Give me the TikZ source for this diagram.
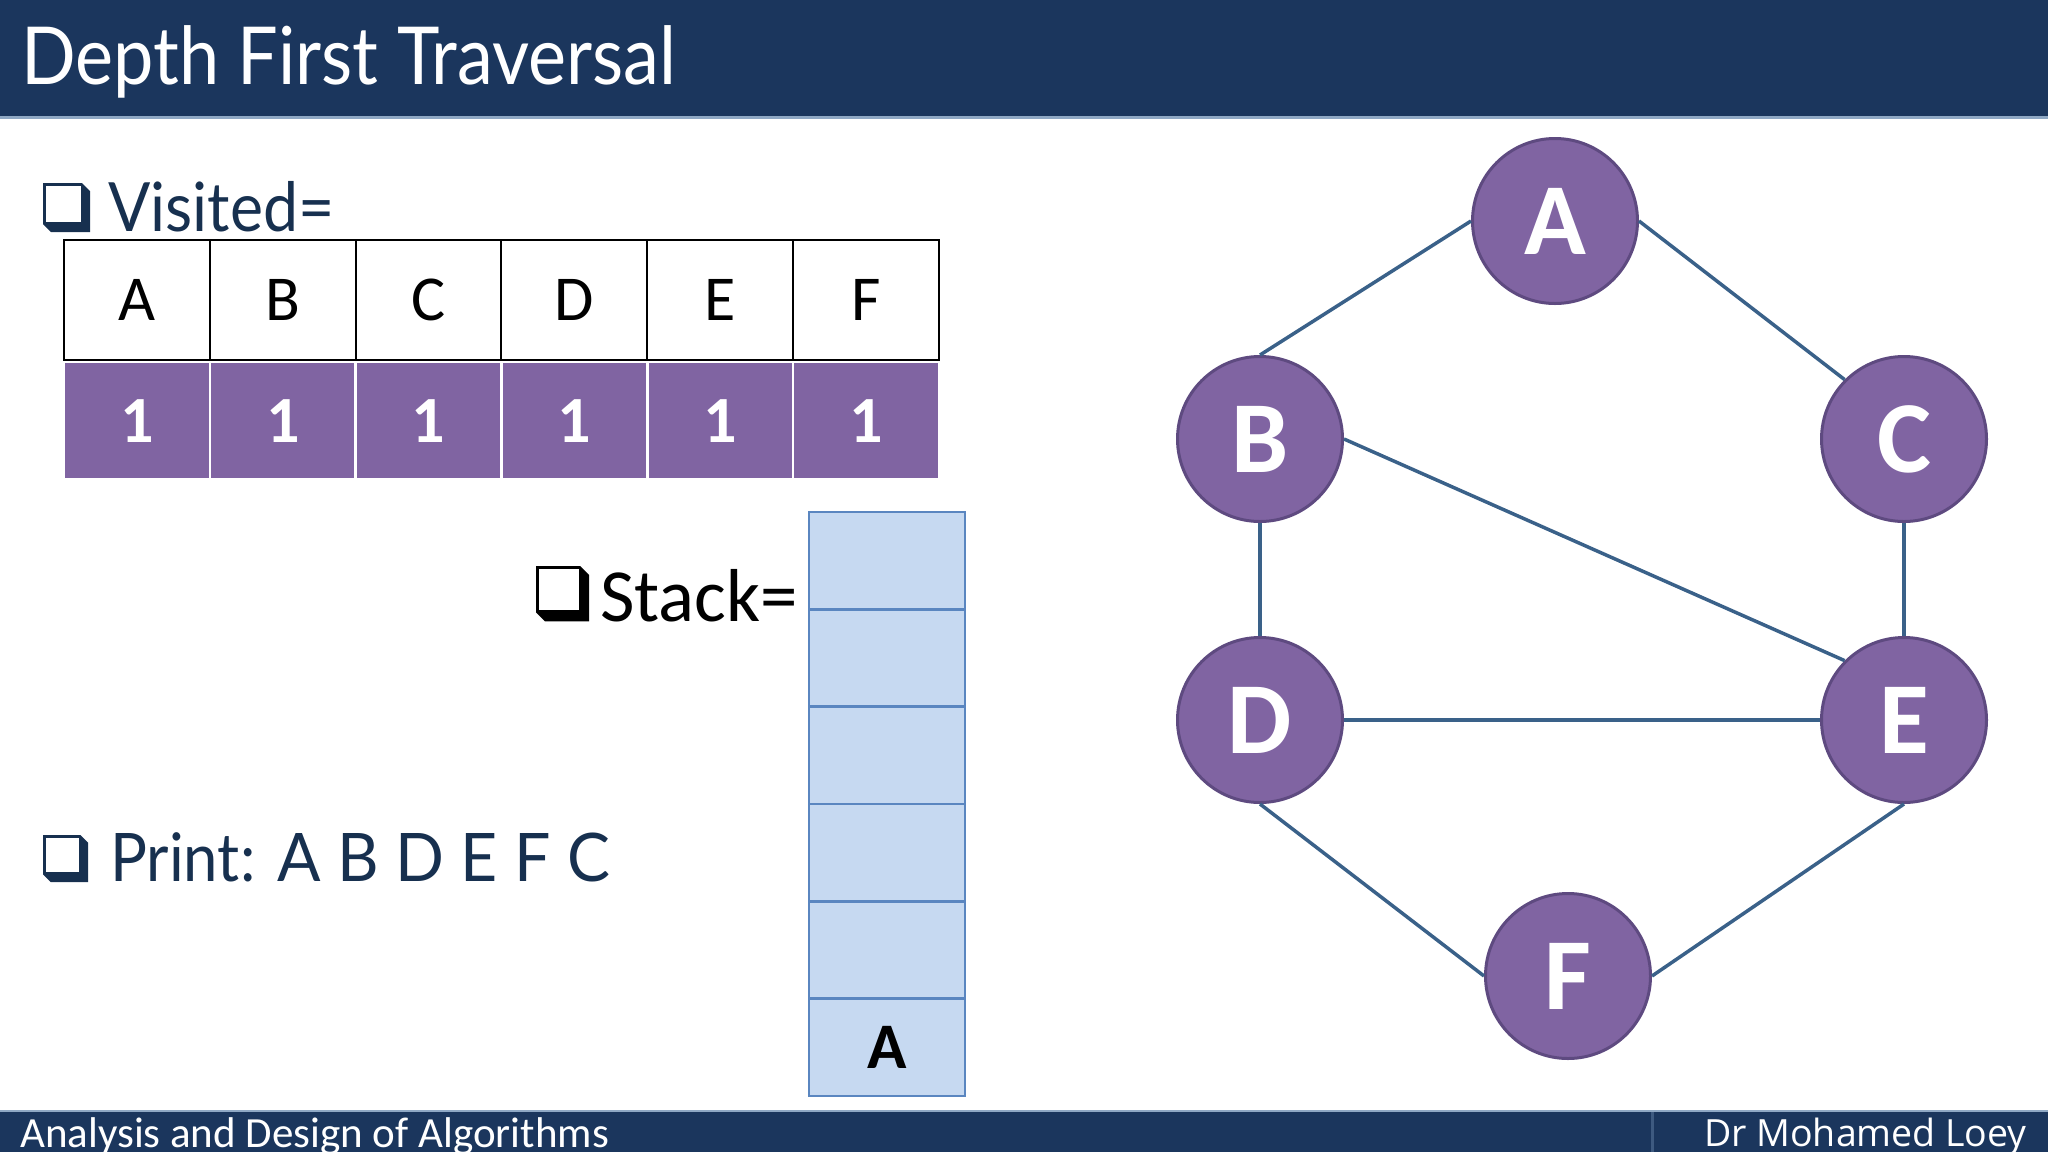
\documentclass[tikz,border=0pt]{standalone}
\usepackage{fontspec}
\usepackage{graphicx}
\setmainfont{Carlito}
\newfontfamily\twcen{Lato}
\newfontfamily\footfont{Open Sans}
\usetikzlibrary{positioning}

\definecolor{barblue}{HTML}{1B365D}
\definecolor{barline}{HTML}{8FA8C4}
\definecolor{barsep}{HTML}{3E5A80}
\definecolor{inkblue}{HTML}{17304F}
\definecolor{vpurple}{HTML}{8064A2}
\definecolor{vpurpledark}{HTML}{5E4A80}
\definecolor{edgeblue}{HTML}{3A6189}
\definecolor{stackfill}{HTML}{C6D9F1}
\definecolor{stackline}{HTML}{5A86C0}

\tikzset{
	chkbox/.pic={
		\fill (0,0) -- (39,0) -- (47,8) -- (47,49) -- (8,49) -- (0,41) -- cycle;
		\fill[white] (3,3) rectangle (38,39);
	},
	vertex/.style={circle, fill=vpurple, draw=vpurpledark, line width=3pt,
		minimum size=165pt, inner sep=0pt, text=white,
		font=\fontsize{102}{102}\selectfont\bfseries, text height=66pt, text depth=0pt},
	link/.style={draw=edgeblue, line width=3.5pt},
	namecell/.style={draw=black, line width=2pt, minimum width=145.8pt, minimum height=120pt,
		inner sep=0pt, font=\fontsize{64}{64}\selectfont, text height=41pt, text depth=0pt},
	flagcell/.style={fill=vpurple, draw=white, line width=2.5pt, minimum width=145.8pt,
		minimum height=117pt, inner sep=0pt, text=white,
		font=\fontsize{66}{66}\selectfont\bfseries, text height=43pt, text depth=0pt},
	stackcell/.style={fill=stackfill, draw=stackline, line width=2.5pt, minimum width=156pt,
		minimum height=97.3pt, inner sep=0pt,
		font=\fontsize{65}{65}\selectfont\bfseries, text height=42pt, text depth=0pt},
}

\begin{document}
\begin{tikzpicture}[x=1pt, y=-1pt]
		\useasboundingbox (0,0) rectangle (2048,1152);
		% title and footer bars
		\fill[barblue] (0,0) rectangle (2048,116);
		\fill[barline] (0,116) rectangle (2048,119);
		\fill[barblue] (0,1111) rectangle (2048,1152);
		\fill[barline] (0,1110) rectangle (2048,1112);
		\draw[barsep, line width=3pt] (1652,1112) -- (1652,1152);
		\node[anchor=base west, inner sep=0pt, text=white] (title) at (21,84)
			{\twcen\fontsize{80}{80}\selectfont\scalebox{0.9}[1]{Depth First Traversal}};
		\node[anchor=base west, inner sep=0pt, text=white] (course) at (20,1147)
			{\fontsize{43}{43}\selectfont Analysis and Design of Algorithms};
		\node[anchor=base east, inner sep=0pt, text=white] (author) at (2027,1146)
			{\footfont\fontsize{37.5}{37.5}\selectfont Dr Mohamed Loey};

		% visited table
		\pic[inkblue] at (43,183) {chkbox};
		\node[anchor=base west, inner sep=0pt, text=inkblue] (visited) at (108,231)
			{\twcen\fontsize{68}{68}\selectfont\scalebox{0.92}[1]{Visited=}};
		\foreach \l [count=\i from 0] in {A,B,C,D,E,F} {
			\node[namecell] (name\l) at ({136.9+145.83*\i},300) {\l};
			\node[flagcell] (flag\l) at ({136.9+145.83*\i},420.5) {1};
		}

		% stack
		\pic[black, scale=1.13] at (536,566) {chkbox};
		\node[anchor=base west, inner sep=0pt] (stacklabel) at (600,621)
			{\fontsize{75}{75}\selectfont Stack=};
		\foreach \k in {1,...,5}
			\node[stackcell] (stack\k) at (887,{512+97.33*(\k-0.5)}) {};
		\node[stackcell] (stack6) at (887,{512+97.33*5.5}) {A};

		% print
		\pic[inkblue, scale=0.96] at (43,835) {chkbox};
		\node[anchor=base west, inner sep=0pt, text=inkblue] (print) at (110,881)
			{\twcen\fontsize{67}{67}\selectfont\scalebox{0.92}[1]{Print:}\hspace{22pt}\scalebox{0.96}[1]{A B D E F C}};

		% graph
		\node[vertex] (A) at (1555,221) {A};
		\node[vertex] (B) at (1260,439) {B};
		\node[vertex] (C) at (1904,439) {C};
		\node[vertex] (D) at (1260,720) {D};
		\node[vertex] (E) at (1904,720) {E};
		\node[vertex] (F) at (1568,976) {F};
		\draw[link] (A.west) -- (B.north);
		\draw[link] (A.east) -- (C.north west);
		\draw[link] (B.south) -- (D.north);
		\draw[link] (B.east) -- (E.north west);
		\draw[link] (C.south) -- (E.north);
		\draw[link] (D.east) -- (E.west);
		\draw[link] (D.south) -- (F.west);
		\draw[link] (E.south) -- (F.east);
	\end{tikzpicture}
\end{document}
